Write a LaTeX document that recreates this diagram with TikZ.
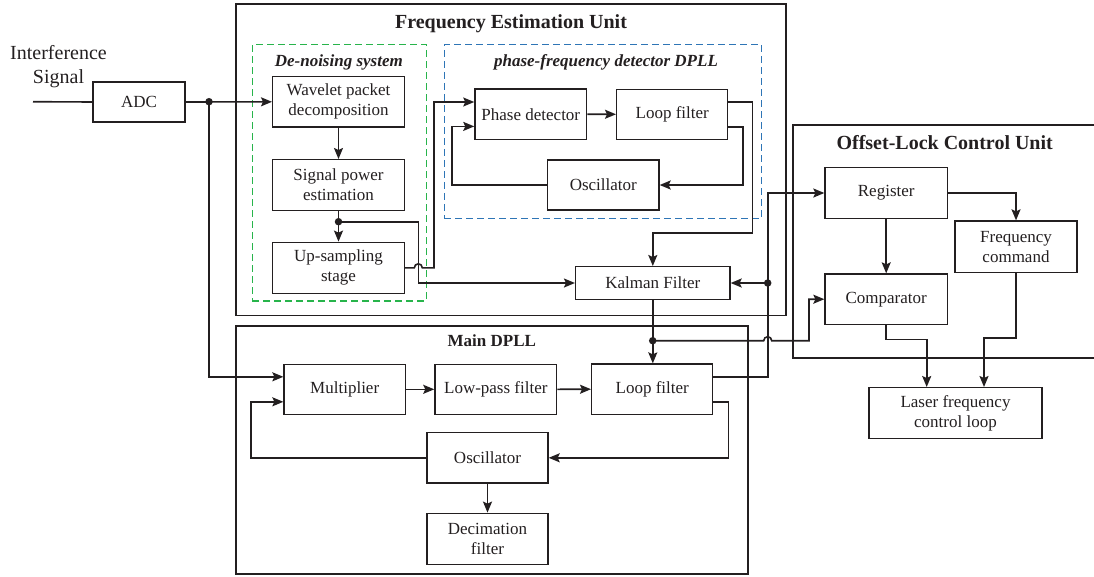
\documentclass[tikz,border=0pt]{standalone}
\usepackage{fontspec}
\setmainfont{Liberation Serif}
\usetikzlibrary{arrows.meta,calc}
\definecolor{ink}{RGB}{35,31,32}
\definecolor{dngreen}{RGB}{40,180,75}
\definecolor{pfblue}{RGB}{46,117,182}
\newcommand{\bodyfont}{\fontsize{17}{20}\selectfont}
\newcommand{\bigtitlefont}{\fontsize{20}{24}\selectfont\bfseries}
\begin{document}
\begin{tikzpicture}[x=1pt,y=-1pt,
  box/.style={draw=ink, line width=1.4pt, inner sep=0pt, align=center, font=\bodyfont, text=ink},
  frame/.style={draw=ink, line width=1.8pt, inner sep=0pt},
  dashframe/.style={line width=1.3pt, dash pattern=on 7pt off 4pt, inner sep=0pt},
  conn/.style={draw=ink, line width=1.6pt},
  arr/.style={conn, -{Stealth[length=11pt,width=9pt,inset=2pt]}},
  jdot/.style={circle, fill=ink, inner sep=0pt, minimum size=7.5pt},
  ttl/.style={font=\bigtitlefont, text=ink, anchor=base},
  subttl/.style={font=\fontsize{17}{20}\selectfont\bfseries\itshape, text=ink, anchor=base}]
\useasboundingbox (0,0) rectangle (1094,576);

% containers
\node[frame, minimum width=550pt, minimum height=311.5pt] (feu) at (511,159.75) {};
\node[dashframe, draw=dngreen, minimum width=174pt, minimum height=256.5pt] (dns) at (339.3,172.75) {};
\node[dashframe, draw=pfblue, minimum width=317.4pt, minimum height=173.8pt] (pfd) at (603,131.4) {};
\node[frame, minimum width=511.7pt, minimum height=248.3pt] (mdp) at (491.85,450.15) {};
\draw[frame] (1094,125) -- (792.7,125) -- (792.7,357.7) -- (1094,357.7);

% titles
\node[ttl] (feut) at (511,28.3) {Frequency Estimation Unit};
\node[subttl] (dnst) at (338.8,66.3) {De-noising system};
\node[subttl] (pfdt) at (606,66.3) {phase-frequency detector DPLL};
\node[ttl, font=\fontsize{17}{20}\selectfont\bfseries] (mdpt) at (491.85,346.7) {Main DPLL};
\node[ttl] (olct) at (944.7,149.3) {Offset-Lock Control Unit};
\node[align=center, font=\fontsize{20}{24}\selectfont, text=ink] (isig) at (58.5,66.6) {Interference\\Signal};

% blocks
\node[box, minimum width=92pt, minimum height=40pt] (adc) at (139,102) {ADC};
\node[box, minimum width=131.6pt, minimum height=50.3pt] (wav) at (338.5,101.8) {Wavelet packet\\decomposition};
\node[box, minimum width=131.6pt, minimum height=50.6pt] (spe) at (338.5,185) {Signal power\\estimation};
\node[box, minimum width=131.6pt, minimum height=51pt] (ups) at (338.5,267.8) {Up-sampling\\stage};
\node[box, minimum width=111.7pt, minimum height=50.3pt] (pd) at (530.8,114.2) {Phase detector};
\node[box, minimum width=111pt, minimum height=50pt] (lf1) at (672.2,114.3) {Loop filter};
\node[box, minimum width=111.3pt, minimum height=50pt] (osc1) at (603.3,185) {Oscillator};
\node[box, minimum width=154.3pt, minimum height=32.6pt] (kal) at (652.8,283) {Kalman Filter};
\node[box, minimum width=121.3pt, minimum height=50pt] (mul) at (344.7,389.3) {Multiplier};
\node[box, minimum width=121.7pt, minimum height=50pt] (lpf) at (495.8,389.3) {Low-pass filter};
\node[box, minimum width=121pt, minimum height=50.3pt] (lf2) at (652.2,389.2) {Loop filter};
\node[box, minimum width=121pt, minimum height=50.3pt] (osc2) at (487.5,457.8) {Oscillator};
\node[box, minimum width=121pt, minimum height=51pt] (dec) at (487.5,538.8) {Decimation\\filter};
\node[box, minimum width=122.3pt, minimum height=50.6pt] (reg) at (886.2,193) {Register};
\node[box, minimum width=122pt, minimum height=51.3pt] (fcm) at (1016,246.7) {Frequency\\command};
\node[box, minimum width=122.3pt, minimum height=50.3pt] (cmp) at (886.2,299.2) {Comparator};
\node[box, minimum width=173pt, minimum height=50.6pt] (lsr) at (955.5,413) {Laser frequency\\control loop};

% junctions
\coordinate (in) at (33,101.7);
\node[jdot] (j1) at (209,101.7) {};
\node[jdot] (j2) at (338.5,221.7) {};
\node[jdot] (j3) at (652.7,340.7) {};
\node[jdot] (j4) at (767.7,283) {};

% connectors
\draw[conn] (in) -- (adc.west);
\draw[arr] (adc.east) -- (wav.west);
\draw[arr] (j1.center) |- ([yshift=12.5pt]mul.west);
\draw[arr] (wav.south) -- (spe.north);
\draw[arr] (spe.south) -- (ups.north);
\draw[arr] (j2.center) -- (418.3,221.7) |- (kal.west);
\draw[arr] (ups.east) -- (414.3,267.8) arc[start angle=180, end angle=0, radius=4pt] -- (434,267.8) |- ([yshift=12.2pt]pd.west);
\draw[arr] (pd.east) -- (lf1.west);
\draw[arr] ([yshift=12.5pt]lf1.east) -| (752.3,232.7) -| (kal.north);
\draw[arr] ([yshift=-12.5pt]lf1.east) -| (743,185) -- (osc1.east);
\draw[arr] (osc1.west) -| (451.7,160) |- ([yshift=-12.2pt]pd.west);
\draw[arr] (kal.south) -- (kal.south |- lf2.north);
\draw[arr] (j3.center) -- (763.7,340.7) arc[start angle=180, end angle=0, radius=4pt] -- (809,340.7) |- (cmp.west);
\draw[arr] ([yshift=12pt]lf2.east) -| (767.7,193) -- (reg.west);
\draw[arr] (j4.center) -- (kal.east);
\draw[arr] ([yshift=-13pt]lf2.east) -| (728.3,440) |- (osc2.east);
\draw[arr] (osc2.west) -| (251,420) |- ([yshift=-12.5pt]mul.west);
\draw[arr] (mul.east) -- (lpf.west);
\draw[arr] (lpf.east) -- (lf2.west);
\draw[arr] (osc2.south) -- (dec.north);
\draw[arr] (reg.south) -- (cmp.north);
\draw[arr] (reg.east) -| (fcm.north);
\draw[arr] (cmp.south) |- (926.7,339.3) -- ([xshift=-28.8pt]lsr.north);
\draw[arr] (fcm.south) |- (984,337.7) -- ([xshift=28.5pt]lsr.north);
\end{tikzpicture}
\end{document}
